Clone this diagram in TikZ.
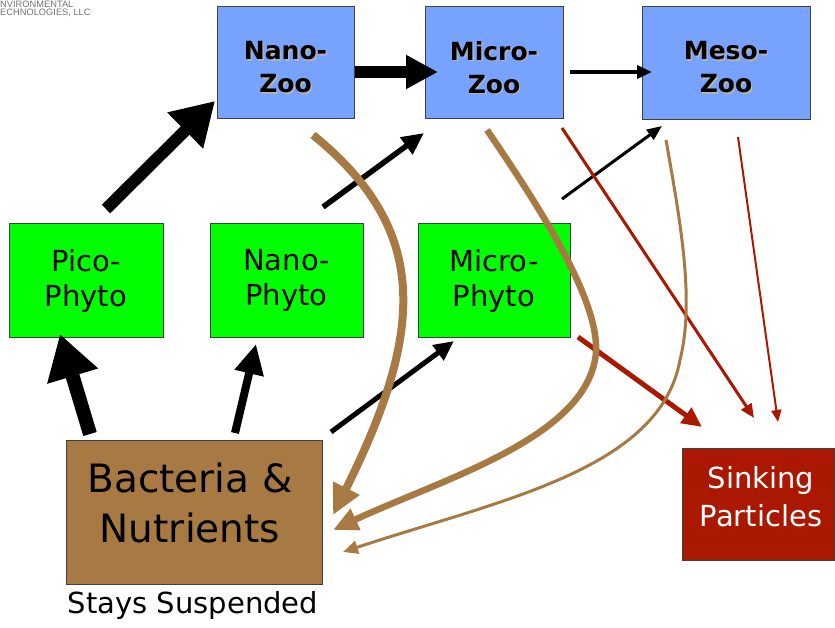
\documentclass[tikz,border=0pt]{standalone}
\usepackage{fontspec}
\setmainfont{DejaVu Sans}
\newfontfamily\logofont{Liberation Sans}
\usetikzlibrary{arrows.meta}
\definecolor{zooblue}{HTML}{77A3FF}
\definecolor{phygreen}{HTML}{00FF00}
\definecolor{bactbrown}{HTML}{A87A43}
\definecolor{sinkred}{HTML}{AA1800}
\newcommand\shtxt[1]{\leavevmode\rlap{\hspace{1.6pt}\raisebox{-1.6pt}{\textcolor{white!70!black}{#1}}}#1}
\begin{document}
\begin{tikzpicture}[x=1pt,y=-1pt,
  box/.style={draw=black!75, line width=1pt, rectangle, inner sep=0pt},
  zoo/.style={box, fill=zooblue},
  zoolbl/.style={inner sep=0pt, font=\fontsize{25}{33}\selectfont\bfseries, align=center},
  phy/.style={box, fill=phygreen, font=\fontsize{29}{35}\selectfont, align=center},
  blk/.style={draw=black, line cap=butt},
  red/.style={draw=sinkred, line cap=butt},
  brn/.style={draw=bactbrown, line cap=butt},
  logo/.style={anchor=west, inner sep=0pt, text=black!55, font=\logofont\fontsize{9.3}{10}\selectfont}
]
\useasboundingbox (0,0) rectangle (835,628);
% logo
\node[logo] (logo1) at (0,4) {NVIRONMENTAL};
\node[logo] (logo2) at (0,12.5) {ECHNOLOGIES, LLC};

% boxes
\node[zoo, minimum width=137pt, minimum height=112pt] (nz) at (285.5,63) {};
\node[zoo, minimum width=138pt, minimum height=112pt] (mz) at (494,63) {};
\node[zoo, minimum width=168pt, minimum height=113pt] (sz) at (726,63.5) {};
\node[zoolbl] (nzl) at (285.5,68) {\shtxt{Nano-}\\\shtxt{Zoo}};
\node[zoolbl] (mzl) at (494,68) {\shtxt{Micro-}\\\shtxt{Zoo}};
\node[zoolbl] (szl) at (726,68) {\shtxt{Meso-}\\\shtxt{Zoo}};
\node[phy, minimum width=154pt, minimum height=113pt] (pp) at (86,280.5) {Pico-\\Phyto};
\node[phy, minimum width=153pt, minimum height=113pt] (np) at (286.5,280.5) {Nano-\\Phyto};
\node[phy, minimum width=152pt, minimum height=113pt] (mp) at (494,280.5) {Micro-\\Phyto};
\node[box, fill=bactbrown, minimum width=256pt, minimum height=144pt] (bn) at (194,512) {};
\node[inner sep=0pt, align=center, font=\fontsize{39}{50}\selectfont] (bnl) at (190,503) {Bacteria \&\\Nutrients};
\node[box, fill=sinkred, minimum width=152pt, minimum height=112pt] (sp) at (758,504) {};
\node[inner sep=0pt, text=white, align=center, font=\fontsize{29}{38}\selectfont] (spl) at (761,497) {Sinking\\Particles};
\node[inner sep=0pt, font=\fontsize{29}{32}\selectfont] (ss) at (193,605) {Stays Suspended};

% coordinates
\coordinate (a1s) at (106,209); \coordinate (a1e) at (215,101);
\coordinate (a2s) at (355,72);  \coordinate (a2e) at (438,72);
\coordinate (a3s) at (570,72);  \coordinate (a3e) at (652,72);
\coordinate (a4s) at (323,207); \coordinate (a4e) at (424,133);
\coordinate (a5s) at (562,199); \coordinate (a5e) at (662,126);
\coordinate (a6s) at (90,434);  \coordinate (a6e) at (60,334);
\coordinate (a7s) at (235,433); \coordinate (a7e) at (256,344);
\coordinate (a8s) at (331,432); \coordinate (a8e) at (454,341);
\coordinate (r1s) at (578,337); \coordinate (r1e) at (702,427);
\coordinate (r2s) at (562,128); \coordinate (r2e) at (754,418);
\coordinate (r3s) at (738,137); \coordinate (r3e) at (778,422);
\coordinate (b1s) at (313,135); \coordinate (b1e) at (333,515);
\coordinate (b2s) at (487,130); \coordinate (b2m) at (595,360); \coordinate (b2e) at (333,530);
\coordinate (b3s) at (666,140); \coordinate (b3m) at (680,360); \coordinate (b3e) at (343,552);

% black arrows
\draw[blk, line width=12pt, -{Triangle[length=42pt,width=48pt]}] (a1s) -- (a1e);
\draw[blk, line width=12pt, -{Triangle[length=32pt,width=32pt]}] (a2s) -- (a2e);
\draw[blk, line width=3.5pt, -{Triangle[length=15pt,width=13pt]}] (a3s) -- (a3e);
\draw[blk, line width=5.5pt, -{Triangle[length=22pt,width=20pt]}] (a4s) -- (a4e);
\draw[blk, line width=3pt, -{Triangle[length=15pt,width=12pt]}] (a5s) -- (a5e);
\draw[blk, line width=14pt, -{Triangle[length=44pt,width=50pt]}] (a6s) -- (a6e);
\draw[blk, line width=8pt, -{Triangle[length=30pt,width=28pt]}] (a7s) -- (a7e);
\draw[blk, line width=5pt, -{Triangle[length=20pt,width=18pt]}] (a8s) -- (a8e);

% red arrows
\draw[red, line width=5pt, -{Triangle[length=20pt,width=18pt]}] (r1s) -- (r1e);
\draw[red, line width=3pt, -{Triangle[length=14pt,width=12pt]}] (r2s) -- (r2e);
\draw[red, line width=2pt, -{Triangle[length=12pt,width=10pt]}] (r3s) -- (r3e);

% brown curved arrows
\draw[brn, line width=8pt, -{Triangle[length=30pt,width=28pt]}] (b1s) .. controls (430,230) and (425,330) .. (b1e);
\draw[brn, line width=6.5pt, -{Triangle[length=25pt,width=22pt]}] (b2s) .. controls (545,215) and (605,310) .. (b2m) .. controls (580,440) and (440,480) .. (b2e);
\draw[brn, line width=3pt, -{Triangle[length=15pt,width=13pt]}] (b3s) .. controls (680,220) and (695,300) .. (b3m) .. controls (660,470) and (500,500) .. (b3e);
\end{tikzpicture}
\end{document}
